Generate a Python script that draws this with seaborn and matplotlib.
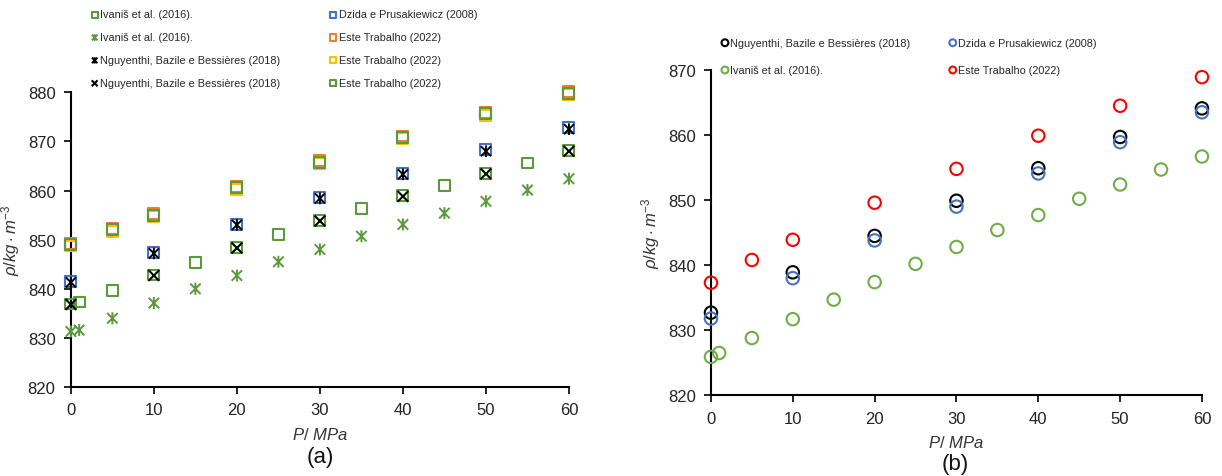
import numpy as np
import matplotlib
matplotlib.use("Agg")
import matplotlib.pyplot as plt
from matplotlib.path import Path
import seaborn as sns

# ---- panel (a) data ----
p_ivanis = [0, 1, 5, 10, 15, 20, 25, 30, 35, 40, 45, 50, 55, 60]
rho_ivanis_sq = [836.9, 837.3, 839.6, 842.8, 845.4, 848.4, 851.0, 853.9, 856.3, 858.9, 861.0, 863.4, 865.6, 868.1]
rho_ivanis_ast = [831.3, 831.6, 834.0, 837.1, 840.0, 842.7, 845.5, 848.0, 850.7, 853.1, 855.4, 857.8, 860.1, 862.4]
p_ng = [0, 10, 20, 30, 40, 50, 60]
rho_ng_ast = [841.3, 847.2, 853.0, 858.4, 863.3, 868.0, 872.5]
rho_ng_x = [836.8, 842.7, 848.3, 853.8, 858.8, 863.4, 868.0]
p_dzida = [0, 10, 20, 30, 40, 50, 60]
rho_dzida_a = [841.5, 847.4, 853.1, 858.6, 863.5, 868.3, 872.8]
p_este = [0, 5, 10, 20, 30, 40, 50, 60]
rho_este_orange = [849.3, 852.3, 855.3, 860.9, 866.1, 871.1, 875.9, 880.1]
rho_este_yellow = [848.7, 851.7, 854.7, 860.3, 865.5, 870.5, 875.3, 879.5]
rho_este_green = [849.0, 852.0, 855.0, 860.6, 865.8, 870.8, 875.6, 879.8]

# ---- panel (b) data ----
rho_ng_b = [832.7, 838.9, 844.5, 849.9, 854.9, 859.7, 864.1]
rho_dzida_b = [831.8, 838.0, 843.8, 849.0, 854.1, 858.9, 863.5]
rho_ivanis_b = [825.9, 826.5, 828.8, 831.7, 834.7, 837.4, 840.2, 842.8, 845.4, 847.7, 850.2, 852.4, 854.7, 856.7]
rho_este_b = [837.3, 840.8, 843.9, 849.6, 854.8, 859.9, 864.5, 868.9]

sns.set_theme(style="white")
plt.rcParams["font.family"] = ["Liberation Sans", "DejaVu Sans"]
plt.rcParams["mathtext.fontset"] = "custom"
plt.rcParams["mathtext.it"] = "Liberation Sans:italic"
plt.rcParams["mathtext.rm"] = "Liberation Sans"

GREEN_D = "#5b9a3c"
GREEN_L = "#70ad47"
BLUE = "#4472c4"
ORANGE = "#ed7d31"
YELLOW = "#ffc000"
RED = "#ff0000"
BLACK = "#000000"

# stroke-only markers built as paths so their outline takes the edge colour
star = Path([(-1, -1), (1, 1), (-1, 1), (1, -1), (0, -1.15), (0, 1.15)],
            [Path.MOVETO, Path.LINETO, Path.MOVETO, Path.LINETO, Path.MOVETO, Path.LINETO])
cross = Path([(-1, -1), (1, 1), (-1, 1), (1, -1)],
             [Path.MOVETO, Path.LINETO, Path.MOVETO, Path.LINETO])

fig = plt.figure(figsize=(12.22, 4.77), dpi=100)
ax1 = fig.add_axes([0.058, 0.1866, 0.4076, 0.6178])
ax2 = fig.add_axes([0.5818, 0.1692, 0.4018, 0.682])


def pts(ax, x, y, marker, color, label, s=62, lw=1.5):
    sns.scatterplot(x=x, y=y, ax=ax, marker=marker, s=s, color=color,
                    facecolors="none", edgecolor=color, linewidth=lw,
                    label=label, legend=False)


# panel (a)
pts(ax1, p_ivanis, rho_ivanis_sq, "s", GREEN_D, "Ivaniš et al. (2016).")
pts(ax1, p_ivanis, rho_ivanis_ast, star, GREEN_D, "Ivaniš et al. (2016).", s=75, lw=1.4)
pts(ax1, p_dzida, rho_dzida_a, "s", BLUE, "Dzida e Prusakiewicz (2008)")
pts(ax1, p_ng, rho_ng_ast, star, BLACK, "Nguyenthi, Bazile e Bessières (2018)", s=70, lw=1.4)
pts(ax1, p_ng, rho_ng_x, cross, BLACK, "Nguyenthi, Bazile e Bessières (2018)", s=60, lw=1.5)
pts(ax1, p_este, rho_este_orange, "s", ORANGE, "Este Trabalho (2022)")
pts(ax1, p_este, rho_este_yellow, "s", YELLOW, "Este Trabalho (2022)")
pts(ax1, p_este, rho_este_green, "s", GREEN_D, "Este Trabalho (2022)")

# panel (b)
pts(ax2, p_ng, rho_ng_b, "o", BLACK, "Nguyenthi, Bazile e Bessières (2018)", s=80)
pts(ax2, p_ivanis, rho_ivanis_b, "o", GREEN_L, "Ivaniš et al. (2016).", s=80)
pts(ax2, p_dzida, rho_dzida_b, "o", BLUE, "Dzida e Prusakiewicz (2008)", s=80)
pts(ax2, p_este, rho_este_b, "o", RED, "Este Trabalho (2022)", s=80)

for ax, ylim, yt in [(ax1, (820, 880), np.arange(820, 881, 10)),
                     (ax2, (820, 870), np.arange(820, 871, 10))]:
    ax.set_xlim(0, 60)
    ax.set_ylim(*ylim)
    ax.set_xticks(np.arange(0, 61, 10))
    ax.set_yticks(yt)
    for side in ("top", "right"):
        ax.spines[side].set_visible(False)
    for side in ("left", "bottom"):
        ax.spines[side].set_color(BLACK)
        ax.spines[side].set_linewidth(1.5)
        ax.spines[side].set_zorder(0.5)
    ax.tick_params(axis="both", direction="out", length=5, width=1.2,
                   color=BLACK, labelsize=12, labelcolor="#222222", pad=6)
    ax.tick_params(axis="both", which="both", left=True, bottom=True)
    ax.set_xlabel("$\\it{P/\\ MPa}$", fontsize=12, color="#333333", labelpad=6)
    ax.set_ylabel("$\\it{\\rho/kg\\cdot m^{-3}}$", fontsize=12, color="#333333", labelpad=4)
    ax.set_facecolor("white")
    for c in ax.collections:
        c.set_clip_on(False)

# legends
h1, l1 = ax1.get_legend_handles_labels()
order1 = [0, 1, 3, 4, 2, 5, 6, 7]
fig.legend([h1[i] for i in order1], [l1[i] for i in order1], ncol=2,
           loc="upper left", bbox_to_anchor=(0.0677, 0.994), frameon=False,
           fontsize=7.8, markerscale=0.55, handletextpad=0.1, handlelength=0.8,
           columnspacing=4.5, labelspacing=1.19, borderaxespad=0.3)

h2, l2 = ax2.get_legend_handles_labels()
order2 = [0, 1, 2, 3]
fig.legend([h2[i] for i in order2], [l2[i] for i in order2], ncol=2,
           loc="upper left", bbox_to_anchor=(0.5835, 0.935), frameon=False,
           fontsize=7.8, markerscale=0.55, handletextpad=0.1, handlelength=0.8,
           columnspacing=3.5, labelspacing=1.59, borderaxespad=0.3)

fig.text(0.262, 0.040, "(a)", fontsize=16, ha="center", va="center", color="#111111")
fig.text(0.7815, 0.027, "(b)", fontsize=16, ha="center", va="center", color="#111111")

fig.savefig("out.png", dpi=100, facecolor="white")
